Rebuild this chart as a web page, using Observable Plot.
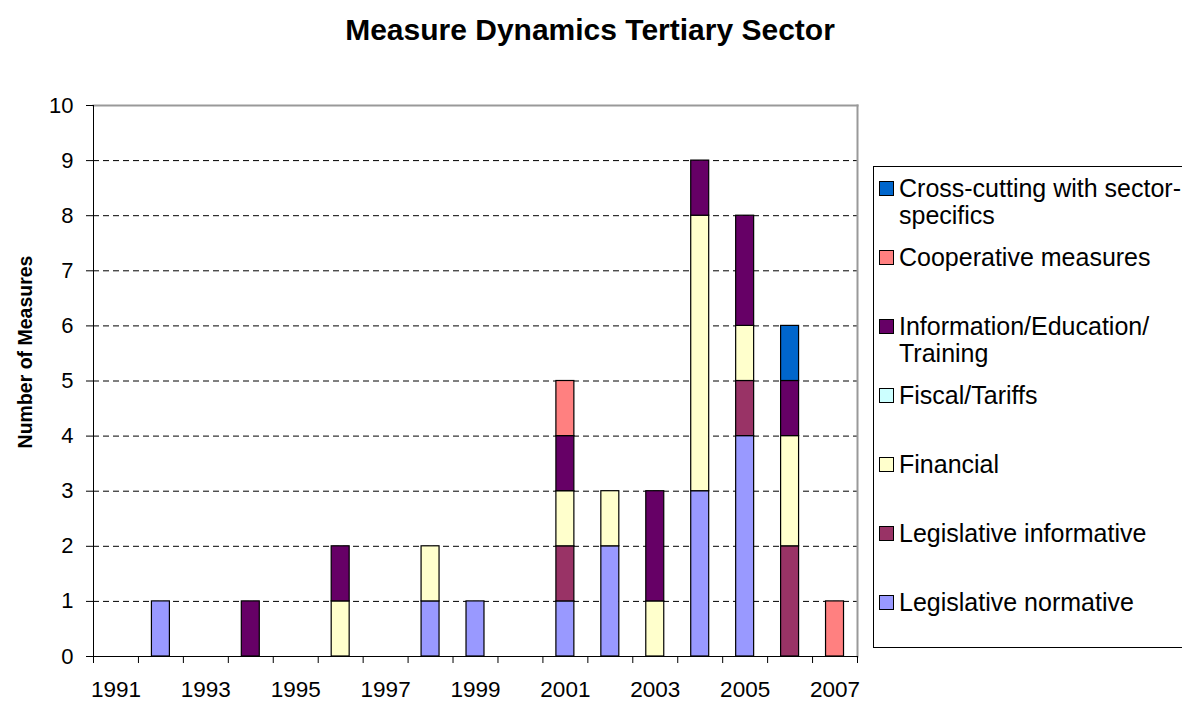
<!DOCTYPE html>
<html>
<head>
<meta charset="utf-8">
<script src="https://cdn.jsdelivr.net/npm/d3@7"></script>
<script src="https://cdn.jsdelivr.net/npm/@observablehq/plot@0.6"></script>
<style>
  html, body { margin: 0; padding: 0; background: #fff; }
  body { font-family: Arial, "Liberation Sans", sans-serif; color: #000; }
  #wrap { position: relative; width: 1182px; height: 702px; overflow: hidden; background: #fff; }
  #chart { position: absolute; left: 0; top: 0; }
  #title { position: absolute; left: 0; top: 15px; width: 1180px; text-align: center;
           font-weight: bold; font-size: 30px; line-height: 1; white-space: nowrap; }
  #ylabel { position: absolute; left: 26px; top: 352px; transform: translate(-50%, -50%) rotate(-90deg);
            font-weight: bold; font-size: 19.5px; white-space: nowrap; line-height: 1; }
  #legend { position: absolute; left: 873px; top: 166px; width: 312px; height: 482px;
            border: 1px solid #000; box-sizing: border-box; background: #fff; }
  .item { position: absolute; left: 0; font-size: 25px; line-height: 27px; white-space: pre; }
  .sw { position: absolute; left: 5px; top: 6px; width: 15px; height: 15px; box-sizing: border-box;
        border: 1px solid #000; }
  .lbl { position: absolute; left: 25px; top: 0; }
</style>
</head>
<body>
<div id="wrap">
  <div id="chart"></div>
  <div id="title"></div>
  <div id="ylabel"></div>
  <div id="legend"></div>
</div>
<script>
const titleText = "Measure Dynamics Tertiary Sector";
const yAxisTitle = "Number of Measures";

const years = ["1991","1992","1993","1994","1995","1996","1997","1998","1999",
               "2000","2001","2002","2003","2004","2005","2006","2007"];

const seriesNames = [
  "Legislative normative",
  "Legislative informative",
  "Financial",
  "Fiscal/Tariffs",
  "Information/Education/Training",
  "Cooperative measures",
  "Cross-cutting with sector-specifics"
];
const seriesColors = ["#9999FF", "#993366", "#FFFFCC", "#CCFFFF", "#660066", "#FF8080", "#0066CC"];

// Legend labels as displayed (top to bottom), with their line breaks
const legendLabels = [
  "Cross-cutting with sector-\nspecifics",
  "Cooperative measures",
  "Information/Education/\nTraining",
  "Fiscal/Tariffs",
  "Financial",
  "Legislative informative",
  "Legislative normative"
];

//                           91 92 93 94 95 96 97 98 99 00 01 02 03 04 05 06 07
const legislativeNormative = [0, 1, 0, 0, 0, 0, 0, 1, 1, 0, 1, 2, 0, 3, 4, 0, 0];
const legislativeInformative=[0, 0, 0, 0, 0, 0, 0, 0, 0, 0, 1, 0, 0, 0, 1, 2, 0];
const financial =            [0, 0, 0, 0, 0, 1, 0, 1, 0, 0, 1, 1, 1, 5, 1, 2, 0];
const fiscalTariffs =        [0, 0, 0, 0, 0, 0, 0, 0, 0, 0, 0, 0, 0, 0, 0, 0, 0];
const informationEducation = [0, 0, 0, 1, 0, 1, 0, 0, 0, 0, 1, 0, 2, 1, 2, 1, 0];
const cooperativeMeasures =  [0, 0, 0, 0, 0, 0, 0, 0, 0, 0, 1, 0, 0, 0, 0, 0, 1];
const crossCutting =         [0, 0, 0, 0, 0, 0, 0, 0, 0, 0, 0, 0, 0, 0, 0, 1, 0];

const yTicks = [0,1,2,3,4,5,6,7,8,9,10];
const gridValues = [1,2,3,4,5,6,7,8,9];
const xLabelYears = ["1991","1993","1995","1997","1999","2001","2003","2005","2007"];

const seriesValues = [legislativeNormative, legislativeInformative, financial, fiscalTariffs,
                      informationEducation, cooperativeMeasures, crossCutting];

const table = [];
seriesNames.forEach((s, si) => {
  years.forEach((yr, yi) => {
    const v = seriesValues[si][yi];
    if (v > 0) table.push({year: yr, series: s, value: v});
  });
});

// layout
const W = 870, H = 702, L = 93, R = 857, T = 105, B = 656;
const step = (R - L) / years.length;
const font = 'Arial, "Liberation Sans", sans-serif';

const chart = Plot.plot({
  width: W, height: H,
  marginLeft: L, marginRight: W - R, marginTop: T, marginBottom: H - B,
  style: {fontFamily: font, fontSize: "22px", color: "#000", background: "transparent", overflow: "visible"},
  x: {domain: years, paddingInner: 0.6, paddingOuter: 0.3, round: false, label: null},
  y: {domain: [0, 10], label: null},
  color: {domain: seriesNames, range: seriesColors},
  marks: [
    Plot.ruleY(gridValues, {stroke: "#000", strokeWidth: 1, strokeDasharray: "6,4"}),
    Plot.frame({anchor: "top", stroke: "#999", strokeWidth: 2}),
    Plot.frame({anchor: "right", stroke: "#999", strokeWidth: 2}),
    Plot.barY(table, {x: "year", y: "value", fill: "series", stroke: "#000", strokeWidth: 1.2, order: seriesNames}),
    Plot.frame({anchor: "left", stroke: "#000", strokeWidth: 1}),
    Plot.frame({anchor: "bottom", stroke: "#000", strokeWidth: 1}),
    Plot.axisY({ticks: yTicks, tickSize: 7, tickPadding: 13, fontSize: 22, label: null}),
    Plot.axisX({ticks: years, tickSize: 7, tickFormat: () => "", dx: step / 2, label: null}),
    Plot.axisX({ticks: [years[0]], tickSize: 7, tickFormat: () => "", dx: -step / 2, label: null}),
    Plot.axisX({ticks: xLabelYears, tickSize: 0, tickPadding: 25, fontSize: 22.5, label: null})
  ]
});
document.getElementById("chart").appendChild(chart);

document.getElementById("title").textContent = titleText;
document.getElementById("ylabel").textContent = yAxisTitle;

const legend = document.getElementById("legend");
const legendColors = seriesColors.slice().reverse();
legendLabels.forEach((lab, i) => {
  const item = document.createElement("div");
  item.className = "item";
  item.style.top = (7.5 + i * 69) + "px";
  const sw = document.createElement("div");
  sw.className = "sw";
  sw.style.background = legendColors[i];
  const tx = document.createElement("div");
  tx.className = "lbl";
  tx.textContent = lab;
  item.appendChild(sw);
  item.appendChild(tx);
  legend.appendChild(item);
});
</script>
</body>
</html>
